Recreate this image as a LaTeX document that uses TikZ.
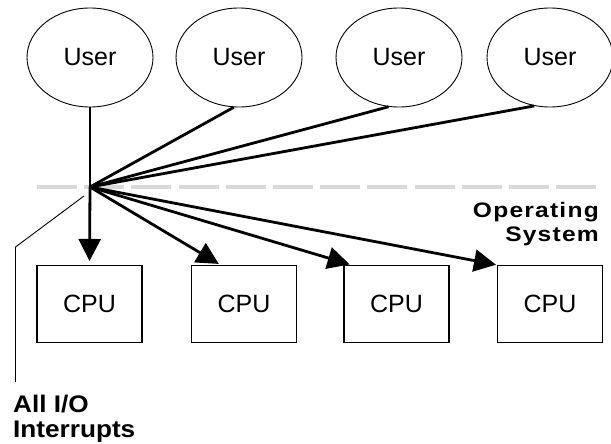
\documentclass[tikz,border=0pt]{standalone}
\usepackage{graphicx}
\usepackage{fontspec}
\setmainfont{Liberation Sans}
\newfontfamily\heavyf{Liberation Sans}[LetterSpace=5]
\newfontfamily\heavyg{Liberation Sans}
\newcommand{\stretchos}[1]{\scalebox{1.17}[1]{#1}}
\newcommand{\stretchio}[1]{\scalebox{1.09}[1]{#1}}
\usetikzlibrary{arrows.meta,shapes.geometric,calc}
\begin{document}
\begin{tikzpicture}[x=1pt,y=-1pt,
  user/.style={ellipse, draw, line width=0.9pt, minimum width=126pt, minimum height=99pt, inner sep=0pt, font=\fontsize{25}{28}\selectfont},
  cpu/.style={rectangle, draw, line width=1.1pt, minimum width=105pt, minimum height=77pt, inner sep=0pt, font=\fontsize{25}{28}\selectfont},
  feed/.style={line width=2.8pt},
  flow/.style={line width=2.8pt, -{Triangle[length=22pt,width=22pt]}},
  sep/.style={draw=black!15, line width=4pt, dash pattern=on 40pt off 7.2pt},
  osnote/.style={font=\heavyf\bfseries\fontsize{21}{24}\selectfont, inner sep=0pt},
  ionote/.style={font=\heavyg\bfseries\fontsize{24}{25}\selectfont, inner sep=0pt},
  lead/.style={line width=0.9pt}]
\useasboundingbox (0,0) rectangle (611,444);
\draw[sep] (37,187) -- (603,187);
\node[user] (u1) at (90,57.5) {User};
\node[user] (u2) at (239,57.5) {User};
\node[user] (u3) at (399,57.5) {User};
\node[user] (u4) at (550,57.5) {User};
\coordinate (j) at (90,187);
\node[cpu] (c1) at (89.5,304) {CPU};
\node[cpu] (c2) at (244,304) {CPU};
\node[cpu] (c3) at (396.5,304) {CPU};
\node[cpu] (c4) at (550,304) {CPU};
\draw[feed] (u1.south) -- (j);
\draw[feed] (u2.264) -- (j);
\draw[feed] (u3.258) -- (j);
\draw[feed] (u4.252) -- (j);
\draw[flow, shorten >=4pt] (j) -- (c1.north);
\draw[flow, shorten >=2pt] (j) -- (c2.121);
\draw[flow, shorten >=2pt] (j) -- (c3.139);
\draw[flow, shorten >=1pt] (j) -- (c4.north west);
\node[osnote, anchor=north east, align=right] (os) at (599,202) {\stretchos{Operating}\\\stretchos{System}};
\node[ionote, anchor=north west, align=left] (io) at (13,395) {\stretchio{All I/O}\\\stretchio{Interrupts}};
\coordinate (b1) at (15.5,247);
\draw[lead] ($(j)+(-6,9)$) -- (b1) -- ($(io.north west)+(2.5,-13)$);
\end{tikzpicture}
\end{document}
